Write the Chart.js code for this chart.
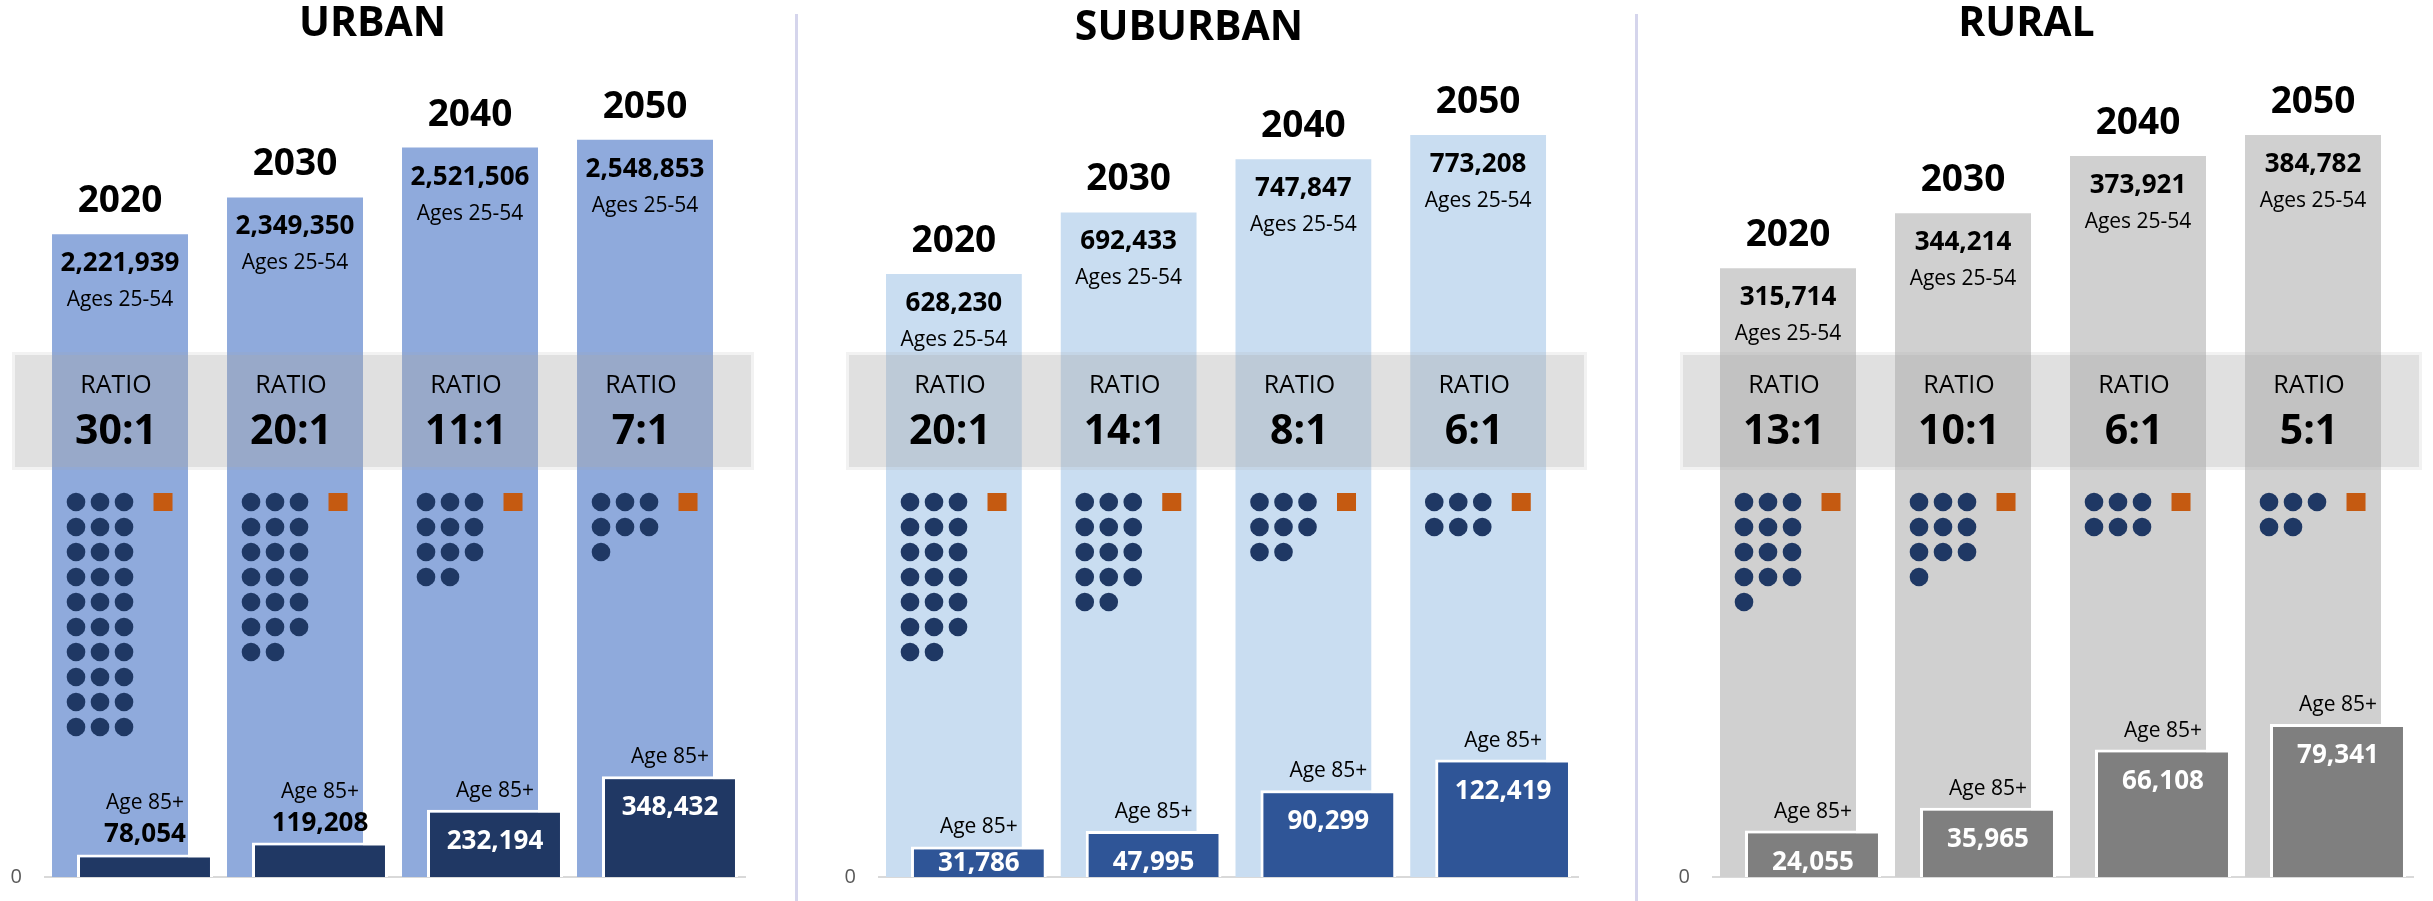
<!DOCTYPE html>
<html>
<head>
<meta charset="utf-8">
<script src="https://cdn.jsdelivr.net/npm/chart.js@4.4.1/dist/chart.umd.min.js"></script>
<style>
    body { margin: 0; background: #fff; width: 2433px; height: 901px; position: relative; overflow: hidden; }
    .panel { position: absolute; top: 0; height: 901px; }
    .sep { position: absolute; top: 14px; bottom: 0; width: 3px; background: #d5d5ec; }
</style>
</head>
<body>
<div class="panel" style="left:0"><canvas id="urban" width="760" height="901"></canvas></div>
<div class="sep" style="left:795px"></div>
<div class="panel" style="left:800px"><canvas id="suburban" width="800" height="901"></canvas></div>
<div class="sep" style="left:1635px"></div>
<div class="panel" style="left:1640px"><canvas id="rural" width="793" height="901"></canvas></div>

<script>
// 数据
const YEARS = [2020, 2030, 2040, 2050];

const URBAN_25_54 = [2221939, 2349350, 2521506, 2548853];
const URBAN_85 = [78054, 119208, 232194, 348432];
const URBAN_RATIO = [30, 20, 11, 7];

const SUBURBAN_25_54 = [628230, 692433, 747847, 773208];
const SUBURBAN_85 = [31786, 47995, 90299, 122419];
const SUBURBAN_RATIO = [20, 14, 8, 6];

const RURAL_25_54 = [315714, 344214, 373921, 384782];
const RURAL_85 = [24055, 35965, 66108, 79341];
const RURAL_RATIO = [13, 10, 6, 5];

const FONT = "'Open Sans', sans-serif";
const STEP = YEARS[1] - YEARS[0];
const OVERLAP = 0.0714; // each series sits this far (in categories) off the centre, bars overlap

// ratio band and dot grid sit at the same height in all three panels
const BAND_TOP = 355;
const BAND_H = 112;
const DOT_Y = 502;

const PANELS = [
    { id: 'urban', title: 'URBAN', workers: URBAN_25_54, elders: URBAN_85, ratio: URBAN_RATIO,
      yMax: 3000000, axisWidth: 45, padRight: 15, padTop: 0, workColor: '#8faadc', elderColor: '#203864', labelsAbove: 2 },
    { id: 'suburban', title: 'SUBURBAN', workers: SUBURBAN_25_54, elders: SUBURBAN_85, ratio: SUBURBAN_RATIO,
      yMax: 900000, axisWidth: 79, padRight: 22, padTop: 4, workColor: '#c9ddf1', elderColor: '#2f5597', labelsAbove: 0 },
    { id: 'rural', title: 'RURAL', workers: RURAL_25_54, elders: RURAL_85, ratio: RURAL_RATIO,
      yMax: 450000, axisWidth: 73, padRight: 20, padTop: 0, workColor: '#d0d0d0', elderColor: '#7f7f7f', labelsAbove: 0 }
];

const fmt = v => v.toLocaleString('en-US');

// year axis, shifted by a fraction of a category so the two series overlap
function yearAxis(shift, showBase) {
    return {
        type: 'linear',
        display: showBase,
        offset: false,
        min: YEARS[0] - STEP / 2 + shift * STEP,
        max: YEARS[YEARS.length - 1] + STEP / 2 + shift * STEP,
        afterBuildTicks: ax => { ax.ticks = YEARS.map(v => ({ value: v })); },
        ticks: { display: false },
        grid: { display: false, drawTicks: false },
        border: { display: showBase, color: '#d9d9d9', width: 2 }
    };
}

function makeOverlay(p) {
    return {
        id: 'overlay',
        afterDatasetsDraw(chart) {
            const { ctx, chartArea: area } = chart;
            const work = chart.getDatasetMeta(0).data;
            const old = chart.getDatasetMeta(1).data;

            ctx.save();
            // 比例带
            ctx.fillStyle = 'rgba(168,168,168,0.36)';
            ctx.fillRect(area.left - 30, BAND_TOP, area.width + 36, BAND_H);
            ctx.strokeStyle = 'rgba(168,168,168,0.15)';
            ctx.lineWidth = 3;
            ctx.strokeRect(area.left - 31.5, BAND_TOP - 1.5, area.width + 39, BAND_H + 3);

            ctx.textAlign = 'center';
            ctx.textBaseline = 'alphabetic';

            work.forEach((bar, i) => {
                const left = bar.x - bar.width / 2;
                ctx.fillStyle = '#000';
                ctx.font = `bold 37px ${FONT}`;
                ctx.fillText(String(YEARS[i]), bar.x, bar.y - 22);
                ctx.font = `bold 26px ${FONT}`;
                ctx.fillText(fmt(p.workers[i]), bar.x, bar.y + 37);
                ctx.font = `21px ${FONT}`;
                ctx.fillText('Ages 25-54', bar.x, bar.y + 72);

                ctx.font = `25px ${FONT}`;
                ctx.fillText('RATIO', bar.x - 4, BAND_TOP + 38);
                ctx.font = `bold 41px ${FONT}`;
                ctx.fillText(p.ratio[i] + ':1', bar.x - 4, BAND_TOP + 89);

                // dots: one per worker in the ratio, square for the 85+ person
                ctx.fillStyle = '#1f3864';
                for (let k = 0; k < p.ratio[i]; k++) {
                    ctx.beginPath();
                    ctx.arc(left + 24 + (k % 3) * 24, DOT_Y + Math.floor(k / 3) * 25, 9.3, 0, Math.PI * 2);
                    ctx.fill();
                }
                ctx.fillStyle = '#c55a11';
                ctx.fillRect(left + 101.5, DOT_Y - 9, 19, 18);
            });

            old.forEach((bar, i) => {
                const above = i < p.labelsAbove;
                let valueY, ageY;
                if (above) {
                    valueY = bar.y - 12;
                    ageY = valueY - 33;
                } else {
                    valueY = Math.min(bar.y + 39, bar.base - 6);
                    ageY = bar.y - 13;
                }
                ctx.fillStyle = '#000';
                ctx.font = `21px ${FONT}`;
                ctx.fillText('Age 85+', bar.x, ageY);
                ctx.fillStyle = above ? '#000' : '#fff';
                ctx.font = `bold 26px ${FONT}`;
                ctx.fillText(fmt(p.elders[i]), bar.x, valueY);
            });
            ctx.restore();
        }
    };
}

PANELS.forEach(p => {
    new Chart(document.getElementById(p.id), {
        type: 'bar',
        data: {
            labels: YEARS.map(String),
            datasets: [
                {
                    label: 'Ages 25-54',
                    data: p.workers,
                    xAxisID: 'xa',
                    backgroundColor: p.workColor,
                    borderWidth: 0,
                    grouped: false,
                    categoryPercentage: 1,
                    barPercentage: 0.777,
                    order: 2
                },
                {
                    label: 'Age 85+',
                    data: p.elders,
                    xAxisID: 'xb',
                    backgroundColor: p.elderColor,
                    borderColor: '#ffffff',
                    borderWidth: 3,
                    grouped: false,
                    categoryPercentage: 1,
                    barPercentage: 0.777,
                    order: 1
                }
            ]
        },
        options: {
            responsive: false,
            animation: false,
            layout: { padding: { left: 0, right: p.padRight, top: p.padTop, bottom: 24 } },
            scales: {
                xa: yearAxis(OVERLAP, true),
                xb: yearAxis(-OVERLAP, false),
                y: {
                    min: 0,
                    max: p.yMax,
                    afterBuildTicks: ax => { ax.ticks = [{ value: 0 }]; },
                    afterFit: ax => {
                        ax.width = p.axisWidth;
                        // the lone "0" label must not push the plot area in
                        ax.paddingTop = 0;
                        ax.paddingBottom = 0;
                    },
                    grid: { display: false, drawTicks: false },
                    border: { display: false },
                    ticks: { color: '#595959', font: { family: FONT, size: 20 }, padding: 23 }
                }
            },
            plugins: {
                legend: { display: false },
                tooltip: { enabled: false },
                title: {
                    display: true,
                    text: p.title,
                    color: '#000',
                    font: { family: FONT, size: 41, weight: 'bold' },
                    padding: { top: 0, bottom: -40 }
                }
            }
        },
        plugins: [makeOverlay(p)]
    });
});
</script>
</body>
</html>
